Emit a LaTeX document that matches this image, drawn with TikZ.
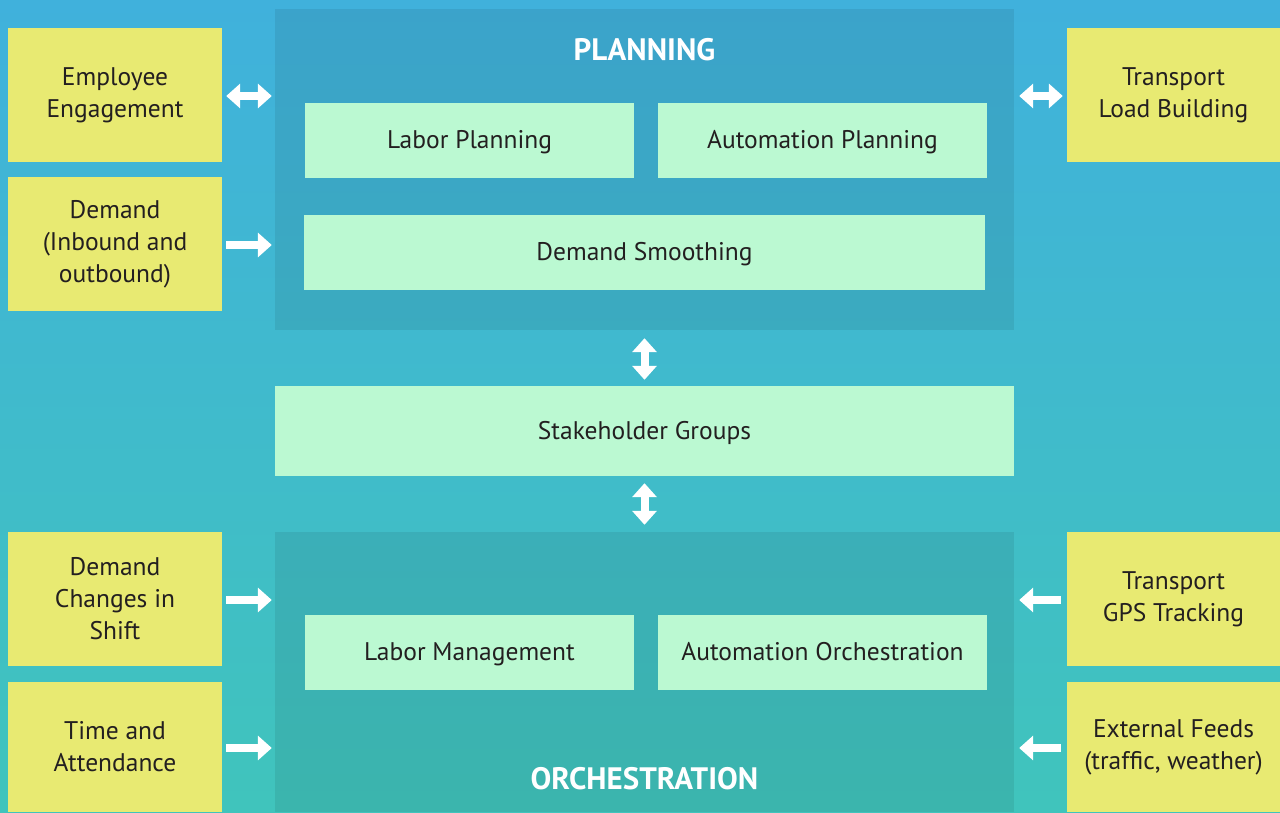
\documentclass[tikz,border=0pt]{standalone}
\usepackage{fontspec}
\setmainfont{PT Sans}
\usetikzlibrary{arrows.meta}
\definecolor{bgtop}{HTML}{40B1DC}
\definecolor{bgbot}{HTML}{40C4BC}
\definecolor{mint}{HTML}{BBF9D2}
\definecolor{sand}{HTML}{E8EA72}
\definecolor{ink}{HTML}{231F20}
\begin{document}
\begin{tikzpicture}[x=1pt,y=-1pt,
  txt/.style={rectangle, inner sep=0pt, align=center, text=ink,
    font=\fontsize{25.5}{32}\selectfont},
  inner/.style={txt, fill=mint, minimum height=75pt, text height=20pt, text depth=4pt},
  side/.style={txt, fill=sand, minimum width=214pt, minimum height=134pt},
  panel/.style={rectangle, inner sep=0pt, fill=black, fill opacity=0.075, minimum width=739pt},
  title/.style={text=white, inner sep=0pt, font=\bfseries\fontsize{31}{34}\selectfont},
  one/.style={draw=white, line width=8pt, -{Triangle[width=24pt,length=14pt]}},
  two/.style={draw=white, line width=8pt, {Triangle[width=24pt,length=14pt]}-{Triangle[width=24pt,length=14pt]}}]

% backdrop
\useasboundingbox (0,0) rectangle (1280,812);
\shade[top color=bgtop, bottom color=bgbot] (0,0) rectangle (1280,812);

% the two tinted panels
\node[panel, minimum height=321pt] (plan) at (644.5,169.5) {};
\node[panel, minimum height=280pt] (orch) at (644.5,672) {};
\node[title] (plantitle) at (644.5,50) {PLANNING};
\node[title] (orchtitle) at (644.5,779) {ORCHESTRATION};

% planning blocks
\node[inner, minimum width=329pt] (lp) at (469.5,140.5) {Labor Planning};
\node[inner, minimum width=329pt] (ap) at (822.5,140.5) {Automation Planning};
\node[inner, minimum width=681pt] (ds) at (644.5,252.5) {Demand Smoothing};

% stakeholders
\node[inner, minimum width=739pt, minimum height=90pt] (sg) at (644.5,431) {Stakeholder Groups};

% orchestration blocks
\node[inner, minimum width=329pt] (lm) at (469.5,652.5) {Labor Management};
\node[inner, minimum width=329pt] (ao) at (822.5,652.5) {Automation Orchestration};

% inputs on the left
\node[side] (emp) at (115,95) {Employee\\Engagement};
\node[side] (dem) at (115,244) {Demand\\(Inbound and\\outbound)};
\node[side] (dcs) at (115,599) {Demand\\Changes in\\Shift};
\node[side, minimum height=130pt] (ta) at (115,747) {Time and\\Attendance};

% inputs on the right
\node[side, minimum width=213pt] (tlb) at (1173.5,95) {Transport\\Load Building};
\node[side, minimum width=213pt] (gps) at (1173.5,599) {Transport\\GPS Tracking};
\node[side, minimum width=213pt, minimum height=130pt] (ext) at (1173.5,747) {External Feeds\\(traffic, weather)};

% connectors
\draw[two, shorten <=4pt, shorten >=3pt] ([yshift=-1pt]emp.east) -- ([yshift=-1pt]emp.east -| plan.west);
\draw[one, shorten <=4pt, shorten >=3pt] ([yshift=-1pt]dem.east) -- ([yshift=-1pt]dem.east -| plan.west);
\draw[one, shorten <=4pt, shorten >=3pt] ([yshift=-1pt]dcs.east) -- ([yshift=-1pt]dcs.east -| orch.west);
\draw[one, shorten <=4pt, shorten >=3pt] ([yshift=-1pt]ta.east) -- ([yshift=-1pt]ta.east -| orch.west);
\draw[two, shorten <=4pt, shorten >=5pt] ([yshift=-1pt]tlb.west) -- ([yshift=-1pt]tlb.west -| plan.east);
\draw[one, shorten <=6pt, shorten >=5pt] ([yshift=-1pt]gps.west) -- ([yshift=-1pt]gps.west -| orch.east);
\draw[one, shorten <=6pt, shorten >=5pt] ([yshift=-1pt]ext.west) -- ([yshift=-1pt]ext.west -| orch.east);
\draw[two, shorten <=8pt, shorten >=6pt] (plan.south) -- (sg.north);
\draw[two, shorten <=7pt, shorten >=7pt] (sg.south) -- (orch.north);
\end{tikzpicture}
\end{document}
